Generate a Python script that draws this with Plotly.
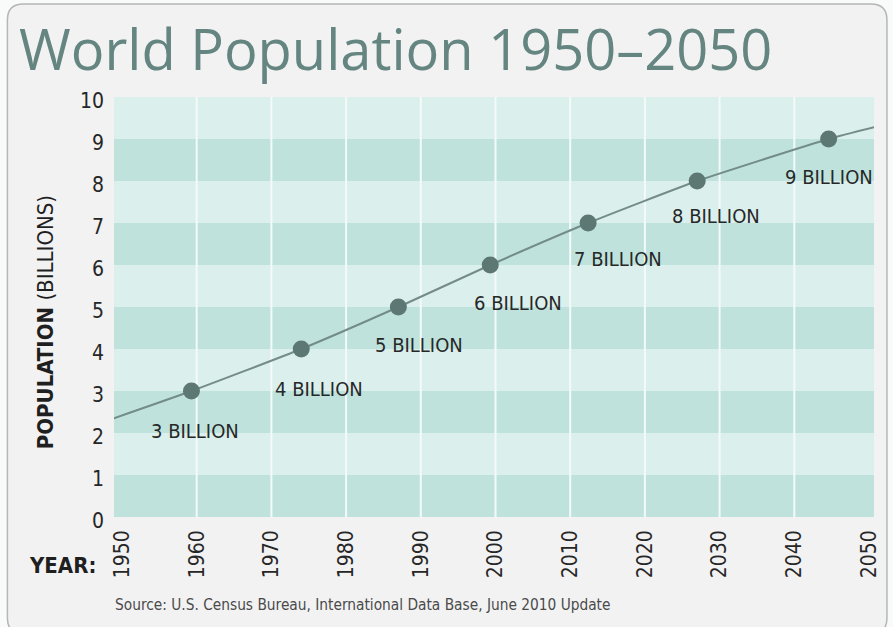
import plotly.graph_objects as go

# ---- data ----
milestone_years = [1959.3, 1974.0, 1987.0, 1999.3, 2012.4, 2027.0, 2044.6]
milestone_pop = [3, 4, 5, 6, 7, 8, 9]
milestone_labels = ["3 BILLION", "4 BILLION", "5 BILLION", "6 BILLION",
                    "7 BILLION", "8 BILLION", "9 BILLION"]
curve_years = [1948.9, 1959.3, 1974.0, 1987.0, 1999.3, 2012.4, 2027.0, 2044.6, 2050.7]
curve_pop = [2.35, 3, 4, 5, 6, 7, 8, 9, 9.28]
x_ticks = [1950, 1960, 1970, 1980, 1990, 2000, 2010, 2020, 2030, 2040, 2050]
y_ticks = [0, 1, 2, 3, 4, 5, 6, 7, 8, 9, 10]

# ---- layout geometry / style ----
W, H = 893, 627
ML, MR, MT, MB = 114, 16, 97, 110
PW, PH = W - ML - MR, H - MT - MB
NARROW = "DejaVu Sans Condensed, Liberation Sans Narrow, sans-serif"
label_dx = [4, 18, 21, 28, 30, 19, 0]
label_dy = [-40, -40, -38, -38, -36, -35, -38]


def P(px, py):
    return (px - ML) / PW, (H - MB - py) / PH


fig = go.Figure()

fig.add_trace(go.Scatter(
    x=curve_years, y=curve_pop, mode="lines",
    line=dict(color="#748c88", width=2, shape="spline", smoothing=0.5),
    hoverinfo="skip", showlegend=False))
fig.add_trace(go.Scatter(
    x=milestone_years, y=milestone_pop, mode="markers",
    marker=dict(size=17, color="#5d7773"),
    showlegend=False))

shapes = []
# rounded frame
x0, y0, x1, y1, r = 7, 4, 890, 634, 16


def pp(px, py):
    a, b = P(px, py)
    return f"{a:.5f},{b:.5f}"


path = (f"M {pp(x0 + r, y0)} L {pp(x1 - r, y0)} Q {pp(x1, y0)} {pp(x1, y0 + r)} "
        f"L {pp(x1, y1 - r)} Q {pp(x1, y1)} {pp(x1 - r, y1)} "
        f"L {pp(x0 + r, y1)} Q {pp(x0, y1)} {pp(x0, y1 - r)} "
        f"L {pp(x0, y0 + r)} Q {pp(x0, y0)} {pp(x0 + r, y0)} Z")
shapes.append(dict(type="path", xref="paper", yref="paper", path=path,
                   fillcolor="#f2f2f3", line=dict(color="#b4b7b6", width=1.5),
                   layer="below"))
# bands
for k in range(10):
    shapes.append(dict(type="rect", xref="paper", yref="y", x0=0, x1=1, y0=k, y1=k + 1,
                       fillcolor="#bfe3dc" if k % 2 == 0 else "#dbefec",
                       line=dict(width=0), layer="below"))
# vertical white grid lines
for yr in x_ticks[1:-1]:
    shapes.append(dict(type="line", xref="x", yref="paper", x0=yr, x1=yr, y0=0, y1=1,
                       line=dict(color="#f3faf8", width=2), layer="below"))

annotations = []
for yr, v, t, dx, dy in zip(milestone_years, milestone_pop, milestone_labels, label_dx, label_dy):
    annotations.append(dict(x=yr, y=v, xref="x", yref="y", text=t, showarrow=False,
                            xanchor="center", yanchor="middle",
                            xshift=dx, yshift=dy,
                            font=dict(family=NARROW, size=20, color="#262828")))

tx, ty = P(17, 48)
annotations.append(dict(x=tx, y=ty, xref="paper", yref="paper", xanchor="left",
                        yanchor="middle", text="World Population 1950–2050", showarrow=False,
                        font=dict(family="Open Sans, Noto Sans, sans-serif", size=56,
                                  color="#648580")))
ax, ay = P(45, 322)
annotations.append(dict(x=ax, y=ay, xref="paper", yref="paper", textangle=-90,
                        xanchor="center", yanchor="middle",
                        text="<b>POPULATION</b> (BILLIONS)", showarrow=False,
                        font=dict(family=NARROW, size=22, color="#1f1f1f")))
yx, yy = P(62, 565)
annotations.append(dict(x=yx, y=yy, xref="paper", yref="paper",
                        xanchor="center", yanchor="middle",
                        text="<b>YEAR:</b>", showarrow=False,
                        font=dict(family=NARROW, size=22, color="#1f1f1f")))
sx, sy = P(113, 605)
annotations.append(dict(x=sx, y=sy, xref="paper", yref="paper", xanchor="left",
                        yanchor="middle",
                        text="Source: U.S. Census Bureau, International Data Base, June 2010 Update",
                        showarrow=False,
                        font=dict(family=NARROW, size=15.3, color="#4a4a4a")))

fig.update_layout(
    width=W, height=H, margin=dict(l=ML, r=MR, t=MT, b=MB, pad=0),
    paper_bgcolor="#f8fbfa", plot_bgcolor="rgba(0,0,0,0)",
    shapes=shapes, annotations=annotations, showlegend=False,
    xaxis=dict(range=[1948.93, 2050.67], tickvals=x_ticks, tickangle=-90,
               showgrid=False, zeroline=False, showline=False, ticks="",
               ticklabelstandoff=8,
               tickfont=dict(family=NARROW, size=21, color="#262626")),
    yaxis=dict(range=[0, 10], tickvals=y_ticks, showgrid=False, zeroline=False,
               showline=False, ticks="", ticklabelstandoff=9, ticklabelshift=4,
               tickfont=dict(family=NARROW, size=21, color="#262626")),
)

fig.write_html("out.html")
